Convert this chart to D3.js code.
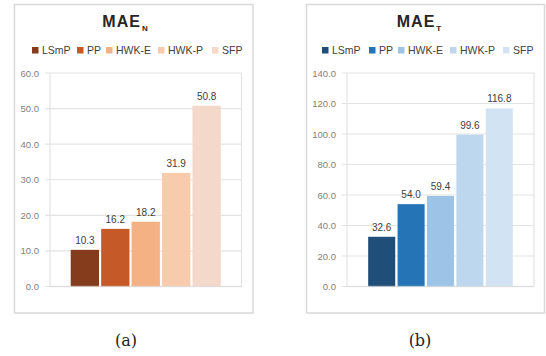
<!DOCTYPE html>
<html>
<head>
<meta charset="utf-8">
<script src="https://cdn.jsdelivr.net/npm/d3@7"></script>
<style>
  html, body { margin: 0; padding: 0; background: #fff; }
  svg { display: block; }
  text { font-family: "Liberation Sans", Arial, sans-serif; }
</style>
</head>
<body>
<svg id="fig" width="546" height="356"></svg>
<script>
// Methods compared in both panels
const methods = ["LSmP", "PP", "HWK-E", "HWK-P", "SFP"];

// Mean absolute error per method
const maeN = [10.3, 16.2, 18.2, 31.9, 50.8];
const maeT = [32.6, 54.0, 59.4, 99.6, 116.8];

// Axis ticks
const ticksN = [0, 10, 20, 30, 40, 50, 60];
const ticksT = [0, 20, 40, 60, 80, 100, 120, 140];

// Bar colours
const coloursN = ["#843c1c", "#c55a28", "#f4b183", "#f8cbad", "#f4d9cb"];
const coloursT = ["#1f4e79", "#2474b6", "#9dc3e6", "#bdd7ee", "#d2e4f4"];

const svg = d3.select("#fig");

function panel(opt) {
  const g = svg.append("g");

  // chart frame
  g.append("rect")
    .attr("x", opt.box[0]).attr("y", opt.box[1])
    .attr("width", opt.box[2] - opt.box[0]).attr("height", opt.box[3] - opt.box[1])
    .attr("fill", "#fff").attr("stroke", "#d9d9d9").attr("stroke-width", 1.5);

  const x = d3.scaleBand().domain(methods)
    .range([opt.plot.left, opt.plot.right])
    .paddingInner(opt.padIn).paddingOuter(opt.padOut);
  const y = d3.scaleLinear().domain([0, d3.max(opt.ticks)])
    .range([opt.plot.bottom, opt.plot.top]);
  const colour = d3.scaleOrdinal().domain(methods).range(opt.colours);

  // gridlines, with a short tick past the left edge
  g.append("g").selectAll("line")
    .data(opt.ticks).join("line")
    .attr("x1", opt.plot.left - 5).attr("x2", opt.plot.right)
    .attr("y1", d => y(d)).attr("y2", d => y(d))
    .attr("stroke", "#e3e3e3").attr("stroke-width", 1.2);

  // tick labels
  const axis = d3.axisLeft(y).tickValues(opt.ticks)
    .tickFormat(d3.format(".1f"))
    .tickSize(0).tickPadding(11);
  const ag = g.append("g")
    .attr("transform", `translate(${opt.plot.left},0)`)
    .call(axis);
  ag.select(".domain").remove();
  ag.selectAll(".tick text")
    .attr("fill", "#7f7f7f").attr("font-size", 9.5)
    .style("font-family", "'Liberation Sans', Arial, sans-serif");

  // plot area sides
  g.append("g").selectAll("line")
    .data([opt.plot.left, opt.plot.right]).join("line")
    .attr("x1", d => d).attr("x2", d => d)
    .attr("y1", opt.plot.top).attr("y2", opt.plot.bottom)
    .attr("stroke", "#e3e3e3").attr("stroke-width", 1.2);

  // bars
  g.append("g").selectAll("rect")
    .data(opt.values).join("rect")
    .attr("x", (d, i) => x(methods[i]))
    .attr("width", x.bandwidth())
    .attr("y", d => y(d))
    .attr("height", d => y(0) - y(d))
    .attr("fill", (d, i) => colour(methods[i]));

  // baseline drawn over the bars
  g.append("line")
    .attr("x1", opt.plot.left).attr("x2", opt.plot.right)
    .attr("y1", y(0)).attr("y2", y(0))
    .attr("stroke", "#d9d9d9").attr("stroke-opacity", 0.6).attr("stroke-width", 1.5);

  // value labels
  g.append("g").selectAll("text")
    .data(opt.values).join("text")
    .attr("x", (d, i) => x(methods[i]) + x.bandwidth() / 2)
    .attr("y", d => y(d) - 6)
    .attr("text-anchor", "middle")
    .attr("font-size", 10).attr("fill", "#404040")
    .text(d => d3.format(".1f")(d));

  // title with subscript
  const t = g.append("text")
    .attr("x", opt.titleX).attr("y", 27)
    .attr("text-anchor", "middle")
    .attr("font-weight", "bold").attr("font-size", 16).attr("fill", "#262626");
  t.append("tspan").text("MAE").attr("letter-spacing", 1);
  t.append("tspan").text(opt.sub).attr("font-size", 8).attr("dy", 4).attr("dx", 1);

  // legend
  const lg = g.append("g").selectAll("g")
    .data(methods).join("g")
    .attr("transform", (d, i) => `translate(${opt.legendX[i]},0)`);
  lg.append("rect")
    .attr("x", 0).attr("y", 47).attr("width", 6.5).attr("height", 6.5)
    .attr("fill", d => colour(d));
  lg.append("text")
    .attr("x", 10).attr("y", 54)
    .attr("font-size", 10.5).attr("fill", "#404040")
    .text(d => d);

  // caption
  svg.append("text")
    .attr("x", opt.captionX).attr("y", 346)
    .attr("text-anchor", "middle")
    .attr("font-size", 16).attr("fill", "#222")
    .style("font-family", "'DejaVu Serif', 'Liberation Serif', serif")
    .text(opt.caption);
}

panel({
  values: maeN, ticks: ticksN, colours: coloursN, sub: "N", caption: "(a)",
  box: [14.5, 4.5, 253, 313],
  plot: { left: 50, right: 241.5, top: 73, bottom: 286.5 },
  padIn: 0.07, padOut: 0.68,
  titleX: 125, captionX: 126,
  legendX: [32, 77, 106, 158, 212]
});

panel({
  values: maeT, ticks: ticksT, colours: coloursT, sub: "T", caption: "(b)",
  box: [306.5, 4.5, 544.5, 313],
  plot: { left: 347, right: 534, top: 73, bottom: 286.5 },
  padIn: 0.08, padOut: 0.72,
  titleX: 419, captionX: 420,
  legendX: [322, 369, 398, 450, 503]
});
</script>
</body>
</html>
